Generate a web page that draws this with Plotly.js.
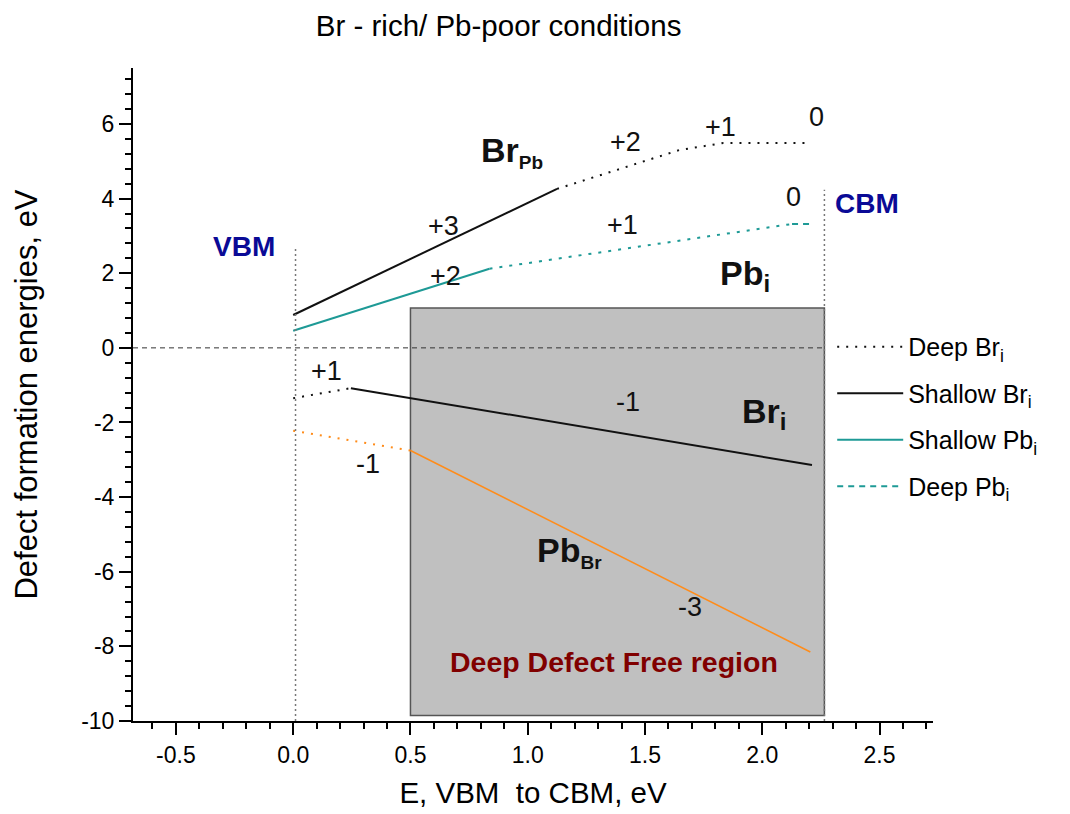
<!DOCTYPE html>
<html>
<head>
<meta charset="utf-8">
<script src="https://cdn.plot.ly/plotly-3.0.1.min.js"></script>
<style>
  html, body { margin: 0; padding: 0; background: #fff; }
  #chart { width: 1070px; height: 814px; }
</style>
</head>
<body>
<div id="chart"></div>
<script>
// Formation energies (eV) vs Fermi level (eV, VBM = 0) under Br-rich / Pb-poor conditions
const brPbShallowX = [0.0, 1.125];
const brPbShallowY = [0.88, 4.26];
const brPbDeepX = [1.125, 1.646, 1.834, 2.18];
const brPbDeepY = [4.26, 5.30, 5.49, 5.49];

const pbIShallowX = [0.0, 0.837];
const pbIShallowY = [0.46, 2.12];
const pbIDeepX = [0.837, 2.127];
const pbIDeepY = [2.12, 3.32];
const pbINeutralX = [2.127, 2.21];
const pbINeutralY = [3.32, 3.32];

const brIDeepX = [0.0, 0.246];
const brIDeepY = [-1.35, -1.08];
const brIShallowX = [0.246, 2.212];
const brIShallowY = [-1.08, -3.14];

const pbBrDeepX = [0.0, 0.5];
const pbBrDeepY = [-2.22, -2.75];
const pbBrShallowX = [0.5, 2.205];
const pbBrShallowY = [-2.75, -8.15];

// Band edges and the deep-defect-free window
const vbmX = 0.01;
const cbmX = 2.265;
const vbmLineTop = 2.72;
const cbmLineTop = 4.24;
const freeRegionX = [0.5, 2.265];
const freeRegionY = [-9.85, 1.07];

// Axis ticks (plain hyphen minus signs)
const xTickVals = [-0.5, 0.0, 0.5, 1.0, 1.5, 2.0, 2.5];
const xTickText = ['-0.5', '0.0', '0.5', '1.0', '1.5', '2.0', '2.5'];
const yTickVals = [-10, -8, -6, -4, -2, 0, 2, 4, 6];
const yTickText = ['-10', '-8', '-6', '-4', '-2', '0', '2', '4', '6'];

// Charge-state labels
const chargeText = ['+3', '+2', '+1', '0', '+2', '+1', '0', '+1', '-1', '-1', '-3'];
const chargeX    = [0.64, 1.416, 1.822, 2.231, 0.65, 1.404, 2.134, 0.14, 1.427, 0.321, 1.693];
const chargeY    = [3.27, 5.52, 5.92, 6.19, 1.93, 3.30, 4.03, -0.62, -1.46, -3.11, -6.94];

// Defect names
const defectText = ['Br<sub><span style="font-size:19px">Pb</span></sub>',
                    'Pb<sub><span style="font-size:24px">i</span></sub>',
                    'Br<sub><span style="font-size:24px">i</span></sub>',
                    'Pb<sub><span style="font-size:19px">Br</span></sub>'];
const defectX = [0.793, 1.813, 1.907, 1.032];
const defectY = [5.24, 1.93, -1.77, -5.48];

const FONT = 'Arial, "Liberation Sans", sans-serif';
const BLACK = '#111111';
const TEAL = '#1E9A96';
const ORANGE = '#FF8C1A';

function seg(x, y, color, width, dash, name, show, rank) {
  return {
    x: x, y: y, type: 'scatter', mode: 'lines',
    line: { color: color, width: width, dash: dash },
    name: name || '', showlegend: !!show, legendrank: rank || 1000,
    legendgroup: name || undefined, hoverinfo: 'skip'
  };
}

const traces = [
  seg(brPbShallowX, brPbShallowY, BLACK, 2, 'solid'),
  seg(brPbDeepX, brPbDeepY, BLACK, 2, '2px,7px'),
  seg(pbIShallowX, pbIShallowY, TEAL, 2, 'solid', 'Shallow Pb<sub>i</sub>', true, 3),
  seg(pbIDeepX, pbIDeepY, TEAL, 2, '3px,7px'),
  seg(pbINeutralX, pbINeutralY, TEAL, 2, '6px,5px', 'Deep Pb<sub>i</sub>', true, 4),
  seg(brIDeepX, brIDeepY, BLACK, 2, '2px,7px', 'Deep Br<sub>i</sub>', true, 1),
  seg(brIShallowX, brIShallowY, BLACK, 2, 'solid', 'Shallow Br<sub>i</sub>', true, 2),
  seg(pbBrDeepX, pbBrDeepY, ORANGE, 2, '2px,7px'),
  seg(pbBrShallowX, pbBrShallowY, ORANGE, 1.5, 'solid')
];

const xRange = [-0.683, 2.728];

const shapes = [
  { type: 'rect', xref: 'x', yref: 'y', layer: 'below',
    x0: freeRegionX[0], x1: freeRegionX[1], y0: freeRegionY[0], y1: freeRegionY[1],
    fillcolor: '#C0C0C0', line: { color: '#555555', width: 1.5 } },
  { type: 'line', xref: 'x', yref: 'y', x0: xRange[0], x1: cbmX, y0: 0, y1: 0,
    line: { color: '#333333', width: 1, dash: '5px,4px' } },
  { type: 'line', xref: 'x', yref: 'y', x0: vbmX, x1: vbmX, y0: -10, y1: vbmLineTop,
    line: { color: '#777777', width: 1.5, dash: '2px,3px' } },
  { type: 'line', xref: 'x', yref: 'y', x0: cbmX, x1: cbmX, y0: -10, y1: cbmLineTop,
    line: { color: '#777777', width: 1.5, dash: '2px,3px' } }
];

const annotations = [];
chargeText.forEach((t, i) => annotations.push({
  x: chargeX[i], y: chargeY[i], xref: 'x', yref: 'y', text: t, showarrow: false,
  xanchor: 'center', yanchor: 'middle', font: { family: FONT, size: 27, color: BLACK }
}));
defectText.forEach((t, i) => annotations.push({
  x: defectX[i], y: defectY[i], xref: 'x', yref: 'y', text: '<b>' + t + '</b>', showarrow: false,
  xanchor: 'left', yanchor: 'middle', font: { family: FONT, size: 34, color: BLACK }
}));
annotations.push(
  { x: -0.209, y: 2.72, xref: 'x', yref: 'y', text: '<b>VBM</b>', showarrow: false,
    font: { family: FONT, size: 28, color: '#0A0A96' } },
  { x: 2.447, y: 3.88, xref: 'x', yref: 'y', text: '<b>CBM</b>', showarrow: false,
    font: { family: FONT, size: 28, color: '#0A0A96' } },
  { x: 1.368, y: -8.41, xref: 'x', yref: 'y', text: '<b>Deep Defect Free region</b>', showarrow: false,
    font: { family: FONT, size: 28.5, color: '#800000' } }
);

const axisCommon = {
  showline: true, linecolor: '#000', linewidth: 2, mirror: false,
  showgrid: false, zeroline: false,
  ticks: 'outside', ticklen: 12, tickwidth: 2, tickcolor: '#000',
  tickfont: { family: FONT, size: 23, color: '#000' }
};

const layout = {
  width: 1070, height: 814,
  paper_bgcolor: '#fff', plot_bgcolor: '#fff',
  margin: { l: 133, r: 137, t: 68, b: 93 },
  font: { family: FONT, color: '#000' },
  title: { text: 'Br - rich/ Pb-poor conditions', x: 0.466, xanchor: 'center',
           y: 0.968, yanchor: 'middle', font: { family: FONT, size: 29.5, color: '#000' } },
  xaxis: Object.assign({}, axisCommon, {
    range: xRange, tickmode: 'array', tickvals: xTickVals, ticktext: xTickText,
    minor: { dtick: 0.1, tick0: 0, ticks: 'outside', ticklen: 6, tickwidth: 2, tickcolor: '#000' },
    title: { text: 'E, VBM\u00A0 to CBM, eV', standoff: 16, font: { family: FONT, size: 29.5, color: '#000' } }
  }),
  yaxis: Object.assign({}, axisCommon, {
    range: [-10, 7.5], tickmode: 'array', tickvals: yTickVals, ticktext: yTickText,
    minor: { dtick: 0.4, tick0: 0, ticks: 'outside', ticklen: 6, tickwidth: 2, tickcolor: '#000' },
    title: { text: 'Defect formation energies, eV', standoff: 34, font: { family: FONT, size: 31, color: '#000' } }
  }),
  showlegend: true,
  legend: {
    x: 0.874, y: 0.608, xanchor: 'left', yanchor: 'top',
    bgcolor: 'rgba(0,0,0,0)', borderwidth: 0,
    font: { family: FONT, size: 25, color: '#000' },
    tracegroupgap: 11, itemwidth: 66, traceorder: 'grouped'
  },
  shapes: shapes,
  annotations: annotations
};

Plotly.newPlot('chart', traces, layout, { displayModeBar: false, staticPlot: true });
</script>
</body>
</html>
